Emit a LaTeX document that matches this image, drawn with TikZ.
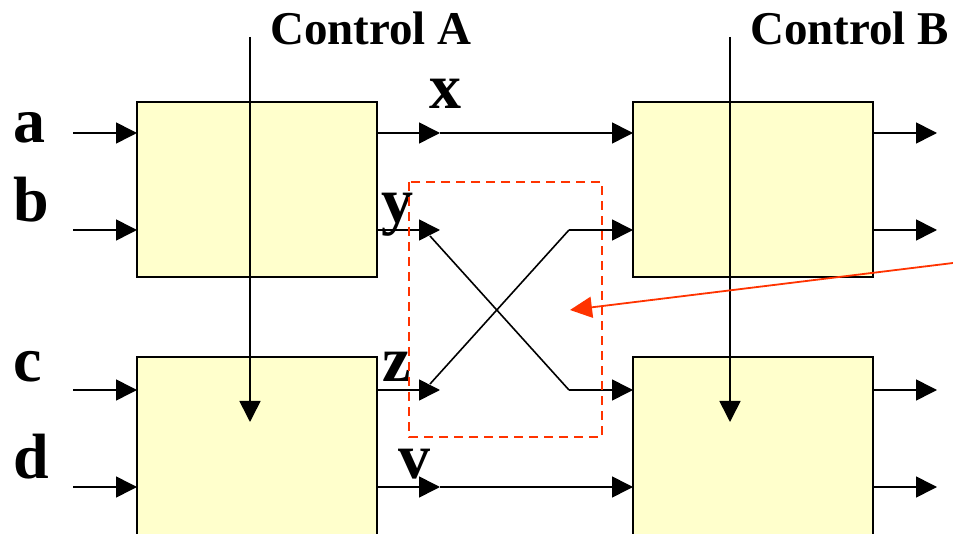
\documentclass[tikz,border=0pt]{standalone}
\usepackage{fontspec}
\setmainfont{Liberation Serif}
\usetikzlibrary{arrows.meta}
\definecolor{boxfill}{HTML}{FFFFCC}
\definecolor{redline}{HTML}{FF3300}
\begin{document}
\begin{tikzpicture}[x=1pt,y=-1pt,
  blockbox/.style={draw=black,line width=1.8pt,fill=boxfill,minimum width=240pt,inner sep=0pt,outer sep=0pt,anchor=north west},
  conn/.style={line width=1.6pt,draw=black},
  arr/.style={conn,-{Triangle[length=21pt,width=21pt]}},
  ctrl/.style={conn,-{Triangle[length=21pt,width=21pt]}},
  lbl/.style={inner sep=0pt,anchor=base west,font=\fontsize{64}{64}\selectfont\bfseries},
  ctl/.style={inner sep=0pt,anchor=base west,font=\fontsize{47}{47}\selectfont\bfseries},
  redbox/.style={draw=redline,line width=1.5pt,dash pattern=on 9pt off 6pt},
  redarr/.style={draw=redline,line width=1.8pt,-{Triangle[length=22pt,width=21pt]}}]
\useasboundingbox (0,0) rectangle (953,534);
\clip (0,0) rectangle (953,534);
% boxes
\node[blockbox,minimum height=175pt] (A) at (137,102) {};
\node[blockbox,minimum height=210pt] (C) at (137,357) {};
\node[blockbox,minimum height=175pt] (B) at (633,102) {};
\node[blockbox,minimum height=210pt] (D) at (633,357) {};
% coordinates
\coordinate (ain) at (73,133);
\coordinate (bin) at (73,230);
\coordinate (cin) at (73,390);
\coordinate (din) at (73,487);
\coordinate (xm) at (440,133);
\coordinate (ym) at (440,230);
\coordinate (zm) at (440,390);
\coordinate (vm) at (440,487);
\coordinate (o1) at (937,133);
\coordinate (o2) at (937,230);
\coordinate (o3) at (937,390);
\coordinate (o4) at (937,487);
\coordinate (ya) at (430,236);
\coordinate (yb) at (569,390);
\coordinate (za) at (569,230);
\coordinate (zb) at (430,384);
\coordinate (ctA) at (250,37);
\coordinate (ctAe) at (250,422);
\coordinate (ctB) at (730,37);
\coordinate (ctBe) at (730,422);
\coordinate (rs) at (953,263);
\coordinate (re) at (570,310);
% inputs
\draw[arr] (ain) -- (ain -| A.west);
\draw[arr] (bin) -- (bin -| A.west);
\draw[arr] (cin) -- (cin -| C.west);
\draw[arr] (din) -- (din -| C.west);
% middle connections
\draw[arr] (A.east |- xm) -- (xm);
\draw[arr] (xm) -- (xm -| B.west);
\draw[arr] (A.east |- ym) -- (ym);
\draw[arr] (C.east |- zm) -- (zm);
\draw[arr] (C.east |- vm) -- (vm);
\draw[arr] (vm) -- (vm -| D.west);
\draw[conn] (ya) -- (yb);
\draw[arr] (yb) -- (yb -| D.west);
\draw[conn] (zb) -- (za);
\draw[arr] (za) -- (za -| B.west);
% outputs
\draw[arr] (B.east |- o1) -- (o1);
\draw[arr] (B.east |- o2) -- (o2);
\draw[arr] (D.east |- o3) -- (o3);
\draw[arr] (D.east |- o4) -- (o4);
% controls
\draw[ctrl] (ctA) -- (ctAe);
\draw[ctrl] (ctB) -- (ctBe);
% labels
\node[ctl] (lCA) at (270,45) {Control A};
\node[ctl] (lCB) at (750,45) {Control B};
\node[lbl] (la) at (13,143) {a};
\node[lbl] (lb) at (13,222) {b};
\node[lbl] (lc) at (13,382) {c};
\node[lbl] (ld) at (13,478) {d};
\node[lbl] (lx) at (429,109) {x};
\node[lbl] (ly) at (381,223) {y};
\node[lbl] (lz) at (382,382) {z};
\node[lbl] (lv) at (398,478) {v};
% red highlight
\draw[redbox] (409,182) rectangle (602,437);
\draw[redarr] (rs) -- (re);
\end{tikzpicture}
\end{document}
